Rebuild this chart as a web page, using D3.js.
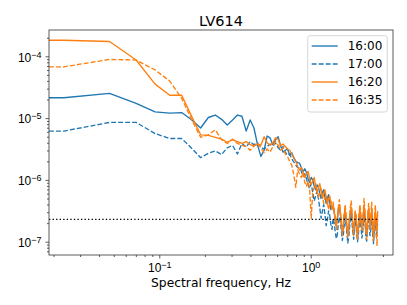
<!DOCTYPE html>
<html>
<head>
<meta charset="utf-8">
<script src="https://cdn.jsdelivr.net/npm/d3@7"></script>
<style>
  body { margin: 0; background: #fff; }
  svg { display: block; font-family: "DejaVu Sans", sans-serif; }
</style>
</head>
<body>
<svg></svg>
<script>
// FFT bins (Hz)
const freqs = [
  0.0234, 0.0469, 0.0703, 0.0938, 0.1172, 0.1406, 0.1641, 0.1875, 0.2109, 0.2344,
  0.2578, 0.2812, 0.3047, 0.3281, 0.3516, 0.375, 0.3984, 0.4219, 0.4453, 0.4688,
  0.4922, 0.5156, 0.5391, 0.5625, 0.5859, 0.6094, 0.6328, 0.6562, 0.6797, 0.7031,
  0.7266, 0.75, 0.7734, 0.7969, 0.8203, 0.8438, 0.8672, 0.8906, 0.9141, 0.9375,
  0.9609, 0.9844, 1.0078, 1.0312, 1.0547, 1.0781, 1.1016, 1.125, 1.1484, 1.1719,
  1.1953, 1.2188, 1.2422, 1.2656, 1.2891, 1.3125, 1.3359, 1.3594, 1.3828, 1.4062,
  1.4297, 1.4531, 1.4766, 1.5, 1.5234, 1.5469, 1.5703, 1.5938, 1.6172, 1.6406,
  1.6641, 1.6875, 1.7109, 1.7344, 1.7578, 1.7812, 1.8047, 1.8281, 1.8516, 1.875,
  1.8984, 1.9219, 1.9453, 1.9688, 1.9922, 2.0156, 2.0391, 2.0625, 2.0859, 2.1094,
  2.1328, 2.1562, 2.1797, 2.2031, 2.2266, 2.25, 2.2734, 2.2969, 2.3203, 2.3438,
  2.3672, 2.3906, 2.4141, 2.4375, 2.4609, 2.4844, 2.5078, 2.5312, 2.5547, 2.5781,
  2.6016, 2.625, 2.6484, 2.6719, 2.6953, 2.7188, 2.7422, 2.7656
];

// spectra, stored as log10 of the PSD
const logPsd1600 = [
  -4.67, -4.60, -4.76, -4.90, -4.92, -4.91, -5.03, -5.16, -4.99, -4.95,
  -5.02, -5.11, -5.03, -4.95, -4.97, -5.21, -5.03, -5.16, -5.43, -5.62,
  -5.52, -5.29, -5.32, -5.43, -5.35, -5.30, -5.45, -5.55, -5.52, -5.50,
  -5.60, -5.56, -5.64, -5.70, -5.72,
  -5.73, -5.80, -5.86, -5.82, -5.88, -5.98, -6.04, -5.96, -6.00, -6.10,
  -6.16, -6.08, -6.12, -6.22, -6.30, -6.20, -6.16, -6.28, -6.38, -6.30,
  -6.24, -6.36, -6.48, -6.42,
  -6.45, -6.52, -6.64, -6.72, -6.64, -6.48, -6.42, -6.55, -6.70, -6.84,
  -6.78, -6.60, -6.50, -6.63, -6.77, -6.90, -6.82, -6.66, -6.54, -6.48,
  -6.60, -6.75, -6.84, -6.70, -6.56, -6.62, -6.79, -6.92, -6.80, -6.64,
  -6.51, -6.58, -6.71, -6.83, -6.76, -6.59, -6.46, -6.55, -6.69, -6.85,
  -6.88, -6.72, -6.57, -6.50, -6.64, -6.80, -6.74, -6.61, -6.53, -6.67,
  -6.83, -6.93, -6.77, -6.60, -6.56, -6.68, -6.81, -6.70, -6.63
];
const logPsd1700 = [
  -5.21, -5.07, -5.07, -5.25, -5.33, -5.33, -5.49, -5.64, -5.57, -5.53,
  -5.59, -5.48, -5.44, -5.58, -5.41, -5.47, -5.38, -5.43, -5.40, -5.47,
  -5.50, -5.46, -5.42, -5.45, -5.40, -5.48, -5.52, -5.46, -5.55, -5.60,
  -5.58, -5.66, -5.71, -5.76, -5.80,
  -5.80, -5.86, -5.94, -5.90, -5.98, -6.08, -6.14, -6.06, -6.20, -6.34,
  -6.26, -6.18, -6.30, -6.46, -6.62, -6.50, -6.40, -6.56, -6.74, -6.64,
  -6.50, -6.58, -6.72, -6.80,
  -6.62, -6.70, -6.84, -6.95, -6.88, -6.70, -6.60, -6.68, -6.82, -6.98,
  -6.90, -6.74, -6.62, -6.72, -6.86, -7.02, -6.94, -6.78, -6.64, -6.58,
  -6.70, -6.84, -6.96, -6.82, -6.66, -6.72, -6.88, -7.00, -6.90, -6.74,
  -6.62, -6.68, -6.80, -6.94, -6.86, -6.70, -6.56, -6.64, -6.78, -6.95,
  -6.99, -6.82, -6.66, -6.60, -6.74, -6.90, -6.84, -6.70, -6.62, -6.76,
  -6.92, -7.03, -6.86, -6.70, -6.64, -6.78, -6.92, -6.80, -6.72
];
const logPsd1620 = [
  -3.74, -3.76, -4.06, -4.45, -4.63, -4.63, -4.98, -5.27, -5.28, -5.31,
  -5.34, -5.39, -5.35, -5.38, -5.41, -5.38, -5.43, -5.45, -5.42, -5.44,
  -5.30, -5.40, -5.44, -5.40, -5.32, -5.34, -5.45, -5.42, -5.46, -5.50,
  -5.52, -5.58, -5.65, -5.70, -5.78,
  -5.84, -5.80, -5.88, -5.96, -5.90, -5.86, -5.98, -6.08, -6.02, -5.96,
  -6.10, -6.20, -6.12, -6.06, -6.18, -6.30, -6.22, -6.16, -6.28, -6.40,
  -6.32, -6.26, -6.38, -6.48,
  -6.40, -6.52, -6.66, -6.74, -6.62, -6.46, -6.40, -6.54, -6.70, -6.82,
  -6.72, -6.56, -6.48, -6.60, -6.76, -6.88, -6.78, -6.62, -6.50, -6.44,
  -6.56, -6.72, -6.82, -6.68, -6.52, -6.58, -6.76, -6.90, -6.76, -6.60,
  -6.46, -6.54, -6.68, -6.80, -6.72, -6.55, -6.42, -6.50, -6.66, -6.82,
  -6.86, -6.70, -6.54, -6.46, -6.60, -6.78, -6.70, -6.56, -6.48, -6.64,
  -6.80, -6.90, -6.74, -6.56, -6.50, -6.64, -6.78, -6.66, -6.58
];
const logPsd1635 = [
  -4.17, -4.05, -4.06, -4.22, -4.40, -4.68, -5.03, -5.31, -5.27, -5.19,
  -5.35, -5.41, -5.34, -5.41, -5.44, -5.46, -5.52, -5.45, -5.40, -5.48,
  -5.56, -5.50, -5.55, -5.46, -5.38, -5.44, -5.52, -5.48, -5.58, -5.62,
  -5.70, -5.76, -5.92, -6.12, -5.84,
  -5.90, -5.96, -5.88, -6.04, -6.10, -6.02, -6.14, -6.62, -6.20, -6.12,
  -6.06, -6.18, -6.28, -6.20, -6.14, -6.26, -6.38, -6.30, -6.24, -6.36,
  -6.48, -6.40, -6.34, -6.46,
  -6.36, -6.48, -6.66, -6.80, -6.64, -6.44, -6.32, -6.50, -6.72, -6.90,
  -6.78, -6.56, -6.40, -6.54, -6.76, -6.94, -6.80, -6.60, -6.44, -6.34,
  -6.52, -6.74, -6.90, -6.72, -6.50, -6.56, -6.78, -6.98, -6.82, -6.58,
  -6.40, -6.48, -6.66, -6.84, -6.74, -6.52, -6.30, -6.44, -6.64, -6.88,
  -6.96, -6.74, -6.52, -6.38, -6.56, -6.80, -6.70, -6.50, -6.36, -6.58,
  -6.82, -6.98, -6.76, -6.54, -6.40, -6.62, -6.90, -7.07, -6.49
];

const noiseFloor = 2.3e-7;

const seriesLabels = ["16:00", "17:00", "16:20", "16:35"];
const seriesValues = [logPsd1600, logPsd1700, logPsd1620, logPsd1635];
const seriesColors = ["#1f77b4", "#1f77b4", "#ff7f0e", "#ff7f0e"];
const seriesDashed = [false, true, false, true];

const xMajor = [0.1, 1];
const xMinor = [0.02, 0.03, 0.04, 0.05, 0.06, 0.07, 0.08, 0.09,
  0.2, 0.3, 0.4, 0.5, 0.6, 0.7, 0.8, 0.9, 2, 3];
const yMajor = [1e-7, 1e-6, 1e-5, 1e-4];
const yExp = { 1e-7: "\u22127", 1e-6: "\u22126", 1e-5: "\u22125", 1e-4: "\u22124" };
const xExp = { 0.1: "\u22121", 1: "0" };
const yMinor = [7e-8, 8e-8, 9e-8,
  2e-7, 3e-7, 4e-7, 5e-7, 6e-7, 7e-7, 8e-7, 9e-7,
  2e-6, 3e-6, 4e-6, 5e-6, 6e-6, 7e-6, 8e-6, 9e-6,
  2e-5, 3e-5, 4e-5, 5e-5, 6e-5, 7e-5, 8e-5, 9e-5, 2e-4];

// Set up SVG dimensions
const width = 407;
const height = 305;
const margin = { top: 30, right: 14, bottom: 50, left: 49 };
const chartWidth = width - margin.left - margin.right;
const chartHeight = height - margin.top - margin.bottom;

const svg = d3.select("svg")
  .attr("width", width)
  .attr("height", height);

const chart = svg.append("g")
  .attr("transform", `translate(${margin.left}, ${margin.top})`);

const x = d3.scaleLog()
  .domain([Math.pow(10, -1.7285), Math.pow(10, 0.5436)])
  .range([0, chartWidth]);

const y = d3.scaleLog()
  .domain([Math.pow(10, -7.215), Math.pow(10, -3.574)])
  .range([chartHeight, 0]);

svg.append("defs").append("clipPath")
  .attr("id", "plot-clip")
  .append("rect")
  .attr("width", chartWidth)
  .attr("height", chartHeight);

// Lines
const line = d3.line()
  .x(d => x(d[0]))
  .y(d => y(Math.pow(10, d[1])));

const plot = chart.append("g").attr("clip-path", "url(#plot-clip)");

seriesValues.forEach((vals, i) => {
  // the zero-frequency bin runs off to the left edge on a log axis
  const pts = [[x.domain()[0], vals[0]]].concat(freqs.map((f, j) => [f, vals[j]]));
  plot.append("path")
    .attr("d", line(pts))
    .attr("fill", "none")
    .attr("stroke", seriesColors[i])
    .attr("stroke-width", 1.35)
    .attr("stroke-linejoin", "round")
    .attr("stroke-dasharray", seriesDashed[i] ? "4.9,2.1" : null);
});

plot.append("line")
  .attr("x1", 0)
  .attr("x2", x(freqs[freqs.length - 1]))
  .attr("y1", y(noiseFloor))
  .attr("y2", y(noiseFloor))
  .attr("stroke", "#000")
  .attr("stroke-width", 1.35)
  .attr("stroke-dasharray", "1.35,2.2");

// Axes
const axisColor = "#333";

const xAxis = chart.append("g")
  .attr("transform", `translate(0, ${chartHeight})`)
  .call(d3.axisBottom(x).tickValues(xMajor).tickSize(3.5).tickFormat(""));
xAxis.selectAll(".tick text").remove();
xAxis.selectAll(".tick").append("text")
  .attr("y", 17)
  .attr("fill", "#000")
  .attr("text-anchor", "middle")
  .style("font-size", "12px")
  .each(function (d) {
    const t = d3.select(this);
    t.append("tspan").text("10");
    t.append("tspan").attr("dy", "-0.45em").style("font-size", "9px").text(xExp[d]);
  });

chart.append("g")
  .attr("transform", `translate(0, ${chartHeight})`)
  .call(d3.axisBottom(x).tickValues(xMinor).tickSize(2).tickFormat(""));

const yAxis = chart.append("g")
  .call(d3.axisLeft(y).tickValues(yMajor).tickSize(3.5).tickFormat(""));
yAxis.selectAll(".tick text").remove();
yAxis.selectAll(".tick").append("text")
  .attr("x", -7.5)
  .attr("dy", "0.4em")
  .attr("fill", "#000")
  .attr("text-anchor", "end")
  .style("font-size", "12px")
  .each(function (d) {
    const t = d3.select(this);
    t.append("tspan").text("10");
    t.append("tspan").attr("dy", "-0.45em").style("font-size", "9px").text(yExp[d]);
  });

chart.append("g")
  .call(d3.axisLeft(y).tickValues(yMinor).tickSize(2).tickFormat(""));

chart.selectAll(".domain").remove();
chart.selectAll(".tick line").attr("stroke", axisColor).attr("stroke-width", 0.8);

chart.append("rect")
  .attr("width", chartWidth)
  .attr("height", chartHeight)
  .attr("fill", "none")
  .attr("stroke", axisColor)
  .attr("stroke-width", 0.8);

// Title and label
svg.append("text")
  .attr("x", margin.left + chartWidth / 2)
  .attr("y", 26)
  .attr("text-anchor", "middle")
  .style("font-size", "14.5px")
  .text("LV614");

svg.append("text")
  .attr("x", margin.left + chartWidth / 2)
  .attr("y", 287)
  .attr("text-anchor", "middle")
  .style("font-size", "12.3px")
  .text("Spectral frequency, Hz");

// Legend
const legend = svg.append("g").attr("transform", "translate(307.7, 35.7)");
legend.append("rect")
  .attr("width", 79.6)
  .attr("height", 76.3)
  .attr("rx", 2.5)
  .attr("fill", "#fff")
  .attr("fill-opacity", 0.8)
  .attr("stroke", "#ccc")
  .attr("stroke-width", 0.8);

seriesLabels.forEach((label, i) => {
  const row = legend.append("g").attr("transform", `translate(0, ${10.3 + i * 18})`);
  row.append("line")
    .attr("x1", 4)
    .attr("x2", 30)
    .attr("stroke", seriesColors[i])
    .attr("stroke-width", 1.35)
    .attr("stroke-dasharray", seriesDashed[i] ? "4.9,2.1" : null);
  row.append("text")
    .attr("x", 40)
    .attr("dy", "0.36em")
    .style("font-size", "12px")
    .text(label);
});
</script>
</body>
</html>
